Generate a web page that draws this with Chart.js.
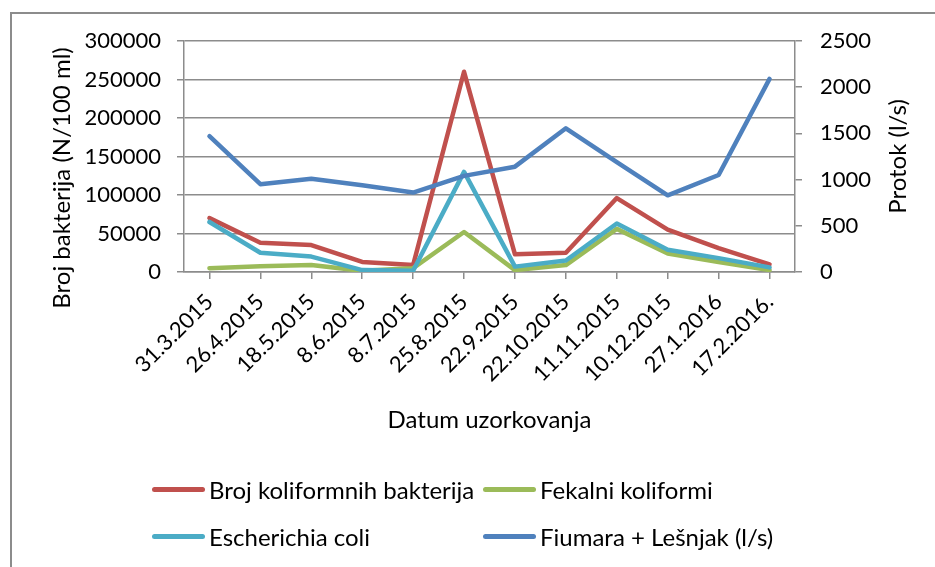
<!DOCTYPE html>
<html>
<head>
<meta charset="utf-8">
<title>Bakterije i protok</title>
<script src="https://cdn.jsdelivr.net/npm/chart.js@4.4.1/dist/chart.umd.min.js"></script>
<style>
  html, body { margin: 0; padding: 0; background: #fff; overflow: hidden; }
  #wrap { position: relative; width: 935px; height: 567px; }
  #frame {
    position: absolute; left: 10px; top: 12px; width: 1000px; height: 1000px;
    border: 2px solid #8c8c8c; box-sizing: border-box; pointer-events: none;
  }
  #chart { position: absolute; left: 0; top: 0; }
  #legend {
    position: absolute; left: 152px; top: 466px;
    display: grid; grid-template-columns: 331px auto; grid-auto-rows: 47px;
    font: 24px Lato, sans-serif; color: #000;
  }
  .item { display: flex; align-items: center; white-space: nowrap; }
  .swatch { width: 53px; height: 5px; border-radius: 3px; margin-right: 4px; }
</style>
</head>
<body>
<div id="wrap">
  <canvas id="chart" width="935" height="567"></canvas>
  <div id="legend"></div>
  <div id="frame"></div>
</div>
<script>
// sampling dates
const DATES = ['31.3.2015', '26.4.2015', '18.5.2015', '8.6.2015', '8.7.2015', '25.8.2015',
  '22.9.2015', '22.10.2015', '11.11.2015', '10.12.2015', '27.1.2016', '17.2.2016.'];

// bacteria counts, N/100 ml (left axis)
const KOLIFORMNE = [70000, 38000, 35000, 13000, 9000, 260000, 23000, 25000, 96000, 55000, 31000, 10000];
const FEKALNI    = [5000, 7500, 9000, 1500, 5000, 52000, 2500, 9000, 56000, 24000, 13000, 2500];
const E_COLI     = [65000, 25000, 20000, 2500, 1500, 130000, 7000, 15000, 63000, 29000, 18000, 6000];

// flow, l/s (right axis)
const PROTOK = [1470, 950, 1010, 940, 860, 1040, 1140, 1555, 1190, 830, 1050, 2090];

const FONT = { family: 'Lato', size: 22 };
const TITLE_FONT = '24px Lato';
const GRID_COLOR = '#8c8c8c';

function lineSet(label, data, color, axis, order) {
  return {
    label, data,
    borderColor: color,
    backgroundColor: color,
    borderWidth: 4.5,
    borderCapStyle: 'round',
    borderJoinStyle: 'round',
    pointRadius: 0,
    tension: 0,
    yAxisID: axis,
    order,
  };
}

// axis titles drawn by hand so they can sit where Excel puts them
const axisTitles = {
  id: 'axisTitles',
  afterDraw(chart) {
    const { ctx, chartArea: a } = chart;
    const text = (str, x, y, rot) => {
      ctx.save();
      ctx.font = TITLE_FONT;
      ctx.fillStyle = '#000';
      ctx.textAlign = 'center';
      ctx.textBaseline = 'middle';
      ctx.translate(x, y);
      if (rot) ctx.rotate(rot);
      ctx.fillText(str, 0, 0);
      ctx.restore();
    };
    text('Datum uzorkovanja', (a.left + a.right) / 2, a.bottom + 148);
    text('Broj bakterija (N/100 ml)', 62, a.top + 137, -Math.PI / 2);
    text('Protok (l/s)', a.right + 103, (a.top + a.bottom) / 2, -Math.PI / 2);
  },
};

const plain = v => String(v);

const chart = new Chart(document.getElementById('chart'), {
  type: 'line',
  data: {
    labels: DATES,
    datasets: [
      lineSet('Broj koliformnih bakterija', KOLIFORMNE, '#c0504d', 'y', 3),
      lineSet('Fekalni koliformi', FEKALNI, '#9bbb59', 'y', 2),
      lineSet('Escherichia coli', E_COLI, '#4bacc6', 'y', 1),
      lineSet('Fiumara + Lešnjak (l/s)', PROTOK, '#4f81bd', 'y1', 0),
    ],
  },
  options: {
    responsive: false,
    animation: false,
    layout: { padding: { top: 41 } },
    plugins: {
      legend: { display: false },
      tooltip: { enabled: false },
    },
    scales: {
      x: {
        offset: true,
        afterFit: s => { s.height = 295; },
        grid: { drawOnChartArea: false, color: GRID_COLOR, lineWidth: 1.5, tickLength: 7 },
        border: { color: GRID_COLOR, width: 1.5 },
        ticks: { color: '#000', font: FONT, minRotation: 45, maxRotation: 45, padding: 10, autoSkip: false },
      },
      y: {
        position: 'left',
        min: 0, max: 300000,
        afterFit: s => { s.width = 184; },
        grid: { color: GRID_COLOR, lineWidth: 1.5, tickLength: 7 },
        border: { color: GRID_COLOR, width: 1.5 },
        ticks: { stepSize: 50000, color: '#000', font: FONT, padding: 16, callback: plain },
      },
      y1: {
        position: 'right',
        min: 0, max: 2500,
        afterFit: s => { s.width = 140; },
        grid: { drawOnChartArea: false, color: GRID_COLOR, lineWidth: 1.5, tickLength: 7 },
        border: { color: GRID_COLOR, width: 1.5 },
        ticks: { stepSize: 500, color: '#000', font: FONT, padding: 18, callback: plain },
      },
    },
  },
  plugins: [axisTitles],
});

// two-column legend built from the datasets
const legendEl = document.getElementById('legend');
chart.data.datasets.forEach(ds => {
  const item = document.createElement('div');
  item.className = 'item';
  const sw = document.createElement('span');
  sw.className = 'swatch';
  sw.style.background = ds.borderColor;
  const txt = document.createElement('span');
  txt.textContent = ds.label;
  item.appendChild(sw);
  item.appendChild(txt);
  legendEl.appendChild(item);
});
</script>
</body>
</html>
